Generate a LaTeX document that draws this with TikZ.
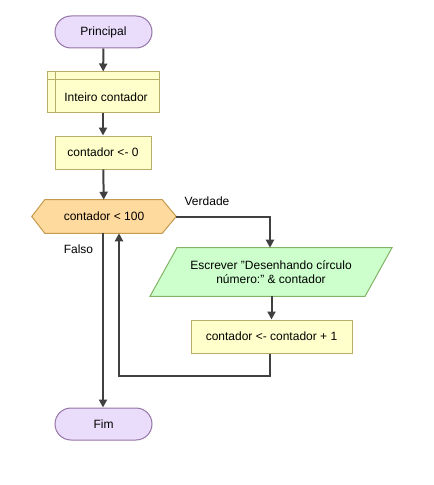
\documentclass[tikz,border=0pt]{standalone}
\usepackage{fontspec}
\setmainfont{Liberation Sans}
\usetikzlibrary{arrows.meta,backgrounds}
\definecolor{termfill}{HTML}{EADDFB}
\definecolor{termdraw}{HTML}{9673A6}
\definecolor{procfill}{HTML}{FFFFCC}
\definecolor{procdraw}{HTML}{B8AE6A}
\definecolor{decfill}{HTML}{FFDA9E}
\definecolor{decdraw}{HTML}{C39A4E}
\definecolor{iofill}{HTML}{CCFFCC}
\definecolor{iodraw}{HTML}{82B366}
\definecolor{arrowc}{HTML}{404040}
\begin{document}
\begin{tikzpicture}[x=0.75pt,y=-0.75pt,
  every node/.style={font=\fontsize{9}{11}\selectfont, inner sep=0pt},
  term/.style={draw=termdraw, fill=termfill, line width=0.75pt, rounded corners=12pt, minimum width=72.75pt, minimum height=24pt},
  proc/.style={draw=procdraw, fill=procfill, line width=0.75pt, minimum height=24.75pt},
  flow/.style={draw=arrowc, line width=1.5pt, -{Triangle[length=6pt,width=6pt]}},
  lbl/.style={font=\fontsize{9}{11}\selectfont}]
\useasboundingbox (0,0) rectangle (433,485);
% nodes
\node[term] (start) at (103.5,32) {Principal};
\node[proc, minimum width=84pt, minimum height=30pt] (decl) at (103,92) {};
\node (decltext) at (106,97) {Inteiro contador};
\node[proc, minimum width=72pt] (init) at (103,152.5) {contador <- 0};
\node[minimum width=108pt, minimum height=24.75pt] (dec) at (104,216.5) {contador < 100};
\node[minimum width=160.9pt, minimum height=36pt, align=center] (io) at (271,272) {Escrever "Desenhando círculo\\número:" \& contador};
\node[proc, minimum width=120.75pt] (inc) at (271.5,336.5) {contador <- contador + 1};
\node[term] (fim) at (103.5,424) {Fim};
% inner lines of declaration
\draw[procdraw, line width=0.75pt] ([xshift=6.75pt]decl.north west) -- ([xshift=6.75pt]decl.south west);
\draw[procdraw, line width=0.75pt] ([yshift=-6pt]decl.north west) -- ([yshift=-6pt]decl.north east);
% backgrounds for decision and io
\begin{scope}[on background layer]
\draw[draw=decdraw, fill=decfill, line width=0.75pt]
  (dec.west) -- ([xshift=9.75pt]dec.north west) -- ([xshift=-10.5pt]dec.north east)
  -- (dec.east) -- ([xshift=-10.5pt]dec.south east) -- ([xshift=9.75pt]dec.south west) -- cycle;
\draw[draw=iodraw, fill=iofill, line width=0.75pt]
  ([xshift=10.1pt]io.north west) -- ([xshift=10.1pt]io.north east)
  -- ([xshift=-10.1pt]io.south east) -- ([xshift=-10.1pt]io.south west) -- cycle;
\end{scope}
% connectors
\draw[flow] (start) -- (decl);
\draw[flow] (decl) -- (init);
\draw[flow] (init) -- (dec);
\coordinate (vr) at (270,216.5);
\draw[flow] (dec.east) -- (vr) -- (io.north -| vr);
\draw[flow] (io.south -| inc) -- (inc);
\coordinate (lb) at (119,376);
\draw[flow] (inc.south -| 270,0) -- (270,376) -- (lb) -- (lb |- dec.south);
\draw[flow] (dec.south -| 103,0) -- (fim.north -| 103,0);
% labels
\node[lbl] (vlab) at (207,201) {Verdade};
\node[lbl] (flab) at (78.5,249) {Falso};
\end{tikzpicture}
\end{document}
